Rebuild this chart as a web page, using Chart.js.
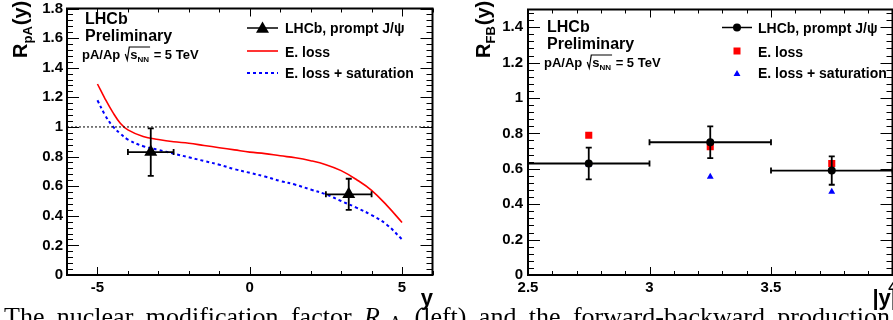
<!DOCTYPE html>
<html>
<head>
<meta charset="utf-8">
<script src="https://cdn.jsdelivr.net/npm/chart.js@4.4.0/dist/chart.umd.min.js"></script>
<style>
html, body { margin: 0; padding: 0; background: #fff; width: 893px; height: 320px; overflow: hidden; position: relative; }
#left { position: absolute; left: 0; top: 0; }
#right { position: absolute; left: 440px; top: 0; }
#caption { position: absolute; left: 4px; top: 304px; width: 886px; font: 26px "Liberation Serif", "Times New Roman", serif; line-height: 26px; text-align: justify; text-align-last: justify; color: #000; }
#caption sub { font-size: 70%; vertical-align: -0.2em; line-height: 0; }
</style>
</head>
<body>
<canvas id="left" width="440" height="320"></canvas>
<canvas id="right" width="480" height="320"></canvas>
<div id="caption">The nuclear modification factor <i>R</i><sub>pA</sub> (left) and the forward-backward production ratio</div>
<script>
// ---- left panel: R_pA vs y ----
const yGrid    = [-5, -4.75, -4.5, -4.25, -4, -3.5, -3, -2.5, -2, -1.5, -1, -0.5, 0, 0.5, 1, 1.5, 2, 2.5, 3, 3.5, 4, 4.5, 5];
const eLoss    = [1.29, 1.19, 1.10, 1.025, 0.98, 0.935, 0.915, 0.90, 0.89, 0.875, 0.86, 0.845, 0.83, 0.82, 0.805, 0.792, 0.772, 0.745, 0.705, 0.645, 0.572, 0.47, 0.355];
const eLossSat = [1.18, 1.08, 1.005, 0.955, 0.915, 0.87, 0.845, 0.82, 0.795, 0.77, 0.745, 0.715, 0.69, 0.665, 0.635, 0.61, 0.577, 0.545, 0.50, 0.455, 0.405, 0.34, 0.24];
const refX = [-6, 6];
const refY = [1, 1];

const lhcbY      = [-3.25, 3.25];
const lhcbRpA    = [0.83, 0.545];
const lhcbRpAErr = [0.16, 0.105];
const lhcbYHalf  = [0.75, 0.75];

const leftXTicks = [-5, 0, 5];
const leftYTicks = [0, 0.2, 0.4, 0.6, 0.8, 1, 1.2, 1.4, 1.6, 1.8];

// ---- right panel: R_FB vs |y| ----
const absY        = [2.75, 3.25, 3.75];
const absYHalf    = [0.25, 0.25, 0.25];
const rfb         = [0.63, 0.75, 0.59];
const rfbErr      = [0.09, 0.09, 0.08];
const rfbELoss    = [0.79, 0.725, 0.63];
const rfbELossSat = [0.625, 0.555, 0.47];

const rightXTicks = [2.5, 3, 3.5, 4];
const rightYTicks = [0, 0.2, 0.4, 0.6, 0.8, 1, 1.2, 1.4];

const FONT = '"Liberation Sans", Arial, Helvetica, sans-serif';
Chart.defaults.font.family = FONT;
Chart.defaults.font.weight = 'bold';
Chart.defaults.color = '#000';

const pts = (xs, ys) => xs.map((x, i) => ({ x: x, y: ys[i] }));
const fmt = v => String(+v.toFixed(2));

function range(a, b, step) {
  const out = [];
  for (let v = a; v <= b + 1e-9; v += step) out.push(+v.toFixed(4));
  return out;
}

function drawAxes(chart, ax) {
  const { ctx, chartArea: a, scales: { x, y } } = chart;
  ctx.save();
  ctx.strokeStyle = '#000';
  ctx.lineWidth = 1;
  ctx.beginPath();
  const xt = (vals, len) => vals.forEach(v => {
    const p = Math.round(x.getPixelForValue(v)) + 0.5;
    ctx.moveTo(p, a.bottom); ctx.lineTo(p, a.bottom - len);
    ctx.moveTo(p, a.top); ctx.lineTo(p, a.top + len);
  });
  const yt = (vals, len) => vals.forEach(v => {
    const p = Math.round(y.getPixelForValue(v)) + 0.5;
    ctx.moveTo(a.left, p); ctx.lineTo(a.left + len, p);
    ctx.moveTo(a.right, p); ctx.lineTo(a.right - len, p);
  });
  xt(ax.xMinor, 4); xt(ax.xMajor, 8);
  yt(ax.yMinor, 6); yt(ax.yMajor, 12);
  ctx.stroke();
  ctx.lineWidth = 2;
  ctx.strokeRect(a.left, a.top, a.right - a.left, a.bottom - a.top);
  ctx.restore();
}

function drawErrors(chart, xs, ys, xHalf, yErr) {
  const { ctx, scales: { x, y } } = chart;
  ctx.save();
  ctx.strokeStyle = '#000';
  ctx.lineWidth = 1.8;
  ctx.beginPath();
  xs.forEach((v, i) => {
    const px = x.getPixelForValue(v), py = y.getPixelForValue(ys[i]);
    const x0 = x.getPixelForValue(v - xHalf[i]), x1 = x.getPixelForValue(v + xHalf[i]);
    const y0 = y.getPixelForValue(ys[i] - yErr[i]), y1 = y.getPixelForValue(ys[i] + yErr[i]);
    ctx.moveTo(x0, py); ctx.lineTo(x1, py);
    ctx.moveTo(x0, py - 3); ctx.lineTo(x0, py + 3);
    ctx.moveTo(x1, py - 3); ctx.lineTo(x1, py + 3);
    ctx.moveTo(px, y0); ctx.lineTo(px, y1);
    ctx.moveTo(px - 3, y0); ctx.lineTo(px + 3, y0);
    ctx.moveTo(px - 3, y1); ctx.lineTo(px + 3, y1);
  });
  ctx.stroke();
  ctx.restore();
}

function yTitle(ctx, bx, by, sub) {
  ctx.save();
  ctx.translate(bx, by);
  ctx.rotate(-Math.PI / 2);
  ctx.fillStyle = '#000';
  ctx.textBaseline = 'alphabetic';
  ctx.textAlign = 'left';
  ctx.font = 'bold 20px ' + FONT;
  ctx.fillText('R', 0, 0);
  let w = ctx.measureText('R').width;
  ctx.font = 'bold 13px ' + FONT;
  ctx.fillText(sub, w, 5);
  w += ctx.measureText(sub).width + 1;
  ctx.font = 'bold 20px ' + FONT;
  ctx.fillText('(y)', w, 0);
  ctx.restore();
}

function label(ctx, x, base) {
  ctx.save();
  ctx.fillStyle = '#000';
  ctx.strokeStyle = '#000';
  ctx.textBaseline = 'alphabetic';
  ctx.textAlign = 'left';
  ctx.font = 'bold 16px ' + FONT;
  ctx.fillText('LHCb', x, base);
  ctx.fillText('Preliminary', x, base + 17);
  const b = base + 35;
  ctx.font = 'bold 13px ' + FONT;
  ctx.fillText('pA/Ap', x - 3, b);
  let cx = x - 3 + ctx.measureText('pA/Ap').width + 5;
  ctx.lineWidth = 1.2;
  ctx.beginPath();
  ctx.moveTo(cx, b - 5); ctx.lineTo(cx + 2, b + 1); ctx.lineTo(cx + 4, b - 12);
  const sx = cx + 5;
  ctx.fillText('s', sx, b);
  let ex = sx + ctx.measureText('s').width;
  ctx.font = 'bold 8px ' + FONT;
  ctx.fillText('NN', ex, b + 3);
  ex += ctx.measureText('NN').width + 1;
  ctx.lineTo(ex, b - 12);
  ctx.stroke();
  ctx.font = 'bold 13px ' + FONT;
  ctx.fillText(' = 5 TeV', ex, b);
  ctx.restore();
}

function legendText(ctx, x, rows) {
  ctx.save();
  ctx.fillStyle = '#000';
  ctx.font = 'bold 14px ' + FONT;
  ctx.textBaseline = 'alphabetic';
  rows.forEach(r => ctx.fillText(r[0], x, r[1] + 5));
  ctx.restore();
}

function tri(ctx, x, y, r, color) {
  ctx.fillStyle = color;
  ctx.beginPath();
  ctx.moveTo(x, y - r);
  ctx.lineTo(x + r * 0.866, y + r * 0.5);
  ctx.lineTo(x - r * 0.866, y + r * 0.5);
  ctx.closePath();
  ctx.fill();
}

function scaleCfg(min, max, ticks, pad, lh, extra) {
  return Object.assign({
    type: 'linear', min: min, max: max,
    grid: { display: false, drawTicks: false },
    border: { display: false },
    afterBuildTicks: s => { s.ticks = ticks.map(v => ({ value: v })); },
    ticks: { font: { size: 15, weight: 'bold', family: FONT, lineHeight: lh }, color: '#000', padding: pad, callback: v => fmt(v), autoSkip: false, maxRotation: 0 }
  }, extra);
}

// left chart
const leftAxes = { xMajor: leftXTicks, xMinor: range(-6, 6, 1), yMajor: leftYTicks, yMinor: range(0, 1.8, 0.04) };
new Chart(document.getElementById('left'), {
  type: 'scatter',
  data: {
    datasets: [
      { label: 'LHCb, prompt J/ψ', data: pts(lhcbY, lhcbRpA), pointStyle: 'triangle', pointRadius: 7.5, backgroundColor: '#000', borderColor: '#000', borderWidth: 0, showLine: false },
      { label: 'ref', data: pts(refX, refY), showLine: true, borderColor: '#000', borderWidth: 1, borderDash: [2, 2], pointRadius: 0 },
      { label: 'E. loss', data: pts(yGrid, eLoss), showLine: true, borderColor: '#ff0000', borderWidth: 1.6, pointRadius: 0, tension: 0.4 },
      { label: 'E. loss + saturation', data: pts(yGrid, eLossSat), showLine: true, borderColor: '#0000ff', borderWidth: 2, borderDash: [3, 3], pointRadius: 0, tension: 0.4 }
    ]
  },
  options: {
    responsive: false, animation: false, events: [],
    layout: { padding: { top: 5, right: 5, bottom: 0, left: 0 } },
    plugins: { legend: { display: false }, tooltip: { enabled: false } },
    scales: {
      x: scaleCfg(-6, 6, leftXTicks, 4, 1.2, { afterFit: s => { s.height = 45; } }),
      y: scaleCfg(0, 1.8, leftYTicks, 4, 0.6, { afterFit: s => { s.width = 67; } })
    }
  },
  plugins: [{
    id: 'leftDeco',
    afterDatasetsDraw(chart) { drawErrors(chart, lhcbY, lhcbRpA, lhcbYHalf, lhcbRpAErr); },
    afterDraw(chart) {
      const ctx = chart.ctx;
      drawAxes(chart, leftAxes);
      yTitle(ctx, 27, 58, 'pA');
      ctx.save();
      ctx.font = 'bold 22px ' + FONT; ctx.fillStyle = '#000'; ctx.textAlign = 'right';
      ctx.fillText('y', 433, 305);
      ctx.restore();
      label(ctx, 85, 24);
      // legend
      ctx.save();
      ctx.lineWidth = 1.5; ctx.strokeStyle = '#000';
      ctx.beginPath(); ctx.moveTo(247, 28); ctx.lineTo(278, 28); ctx.stroke();
      tri(ctx, 262.5, 29, 7.5, '#000');
      ctx.strokeStyle = '#ff0000'; ctx.lineWidth = 1.6;
      ctx.beginPath(); ctx.moveTo(247, 51); ctx.lineTo(278, 51); ctx.stroke();
      ctx.strokeStyle = '#0000ff'; ctx.lineWidth = 2; ctx.setLineDash([3, 3]);
      ctx.beginPath(); ctx.moveTo(247, 73); ctx.lineTo(278, 73); ctx.stroke();
      ctx.restore();
      legendText(ctx, 285, [['LHCb, prompt J/ψ', 28], ['E. loss', 51.5], ['E. loss + saturation', 73]]);
    }
  }]
});

// right chart
const rightAxes = { xMajor: rightXTicks, xMinor: range(2.5, 4, 0.1), yMajor: rightYTicks, yMinor: range(0, 1.5, 0.04) };
new Chart(document.getElementById('right'), {
  type: 'scatter',
  data: {
    datasets: [
      { label: 'LHCb, prompt J/ψ', data: pts(absY, rfb), pointStyle: 'circle', pointRadius: 4, backgroundColor: '#000', borderColor: '#000', borderWidth: 0 },
      { label: 'E. loss + saturation', data: pts(absY, rfbELossSat), pointStyle: 'triangle', pointRadius: 4, backgroundColor: '#0000ff', borderWidth: 0 },
      { label: 'E. loss', data: pts(absY, rfbELoss), pointStyle: 'rect', pointRadius: 5, backgroundColor: '#ff0000', borderWidth: 0 }
    ]
  },
  options: {
    responsive: false, animation: false, events: [],
    layout: { padding: { top: 5, right: 27.5, bottom: 0, left: 0 } },
    plugins: { legend: { display: false }, tooltip: { enabled: false } },
    scales: {
      x: scaleCfg(2.5, 4, rightXTicks, 4, 1.2, { afterFit: s => { s.height = 45; } }),
      y: scaleCfg(0, 1.5, rightYTicks, 5, 0.6, { afterFit: s => { s.width = 88; } })
    }
  },
  plugins: [{
    id: 'rightDeco',
    afterDatasetsDraw(chart) { drawErrors(chart, absY, rfb, absYHalf, rfbErr); },
    afterDraw(chart) {
      const ctx = chart.ctx;
      drawAxes(chart, rightAxes);
      yTitle(ctx, 50, 58, 'FB');
      ctx.save();
      ctx.font = 'bold 22px ' + FONT; ctx.fillStyle = '#000'; ctx.textAlign = 'right';
      ctx.fillText('|y|', 457, 305);
      ctx.restore();
      label(ctx, 107, 32);
      // legend
      ctx.save();
      ctx.lineWidth = 1.5; ctx.strokeStyle = '#000';
      ctx.beginPath(); ctx.moveTo(282, 27.5); ctx.lineTo(312, 27.5); ctx.stroke();
      ctx.fillStyle = '#000';
      ctx.beginPath(); ctx.arc(297, 27.5, 4, 0, Math.PI * 2); ctx.fill();
      ctx.fillStyle = '#ff0000';
      ctx.fillRect(293.5, 47.5, 7, 7);
      tri(ctx, 297, 74, 4, '#0000ff');
      ctx.restore();
      legendText(ctx, 318, [['LHCb, prompt J/ψ', 27.5], ['E. loss', 51.5], ['E. loss + saturation', 73]]);
    }
  }]
});
</script>
</body>
</html>
